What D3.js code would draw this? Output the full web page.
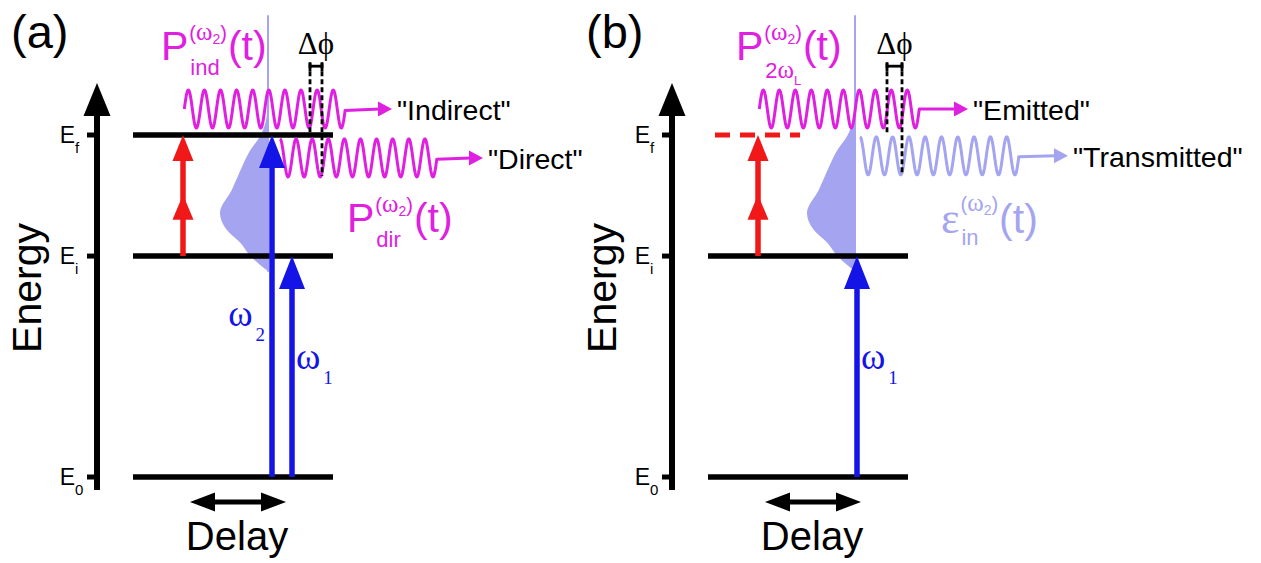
<!DOCTYPE html>
<html>
<head>
<meta charset="utf-8">
<script src="https://cdn.jsdelivr.net/npm/d3@7"></script>
<style>
body { margin: 0; background: #fff; }
svg { display: block; }
</style>
</head>
<body>
<script>
// Data
//---------
var panelNames = ["(a)", "(b)"];

// energy levels, arb. units (E0 = 0, Ef = 100)
var levelSubs = ["0", "i", "f"];
var levelEnergy = [0, 64.6, 100];
var levelKindA = ["solid", "solid", "solid"];
var levelKindB = ["solid", "solid", "virtual"];

// excitation arrows : panel, delay position, start / end energy
var pumpPanel = [0, 0, 0, 1, 1];
var pumpPos = [25, 69.5, 79.5, 25, 74.5];
var pumpFrom = [64.6, 0, 0, 64.6, 0];
var pumpTo = [100, 100, 64.6, 100, 64.6];
var pumpKind = ["red", "blue", "blue", "red", "blue"];
var pumpLabel = ["", "2", "1", "", "1"];
var redMidHead = 82.5;

// omega2 pulse spectrum
var spectrumPos = [68, 74];
var specEnergy = [60, 62, 64.6, 68.4, 72.2, 77.2, 83.9, 89.8, 95.6, 99.7, 104.4, 110.2];
var specAmp = [0, 0.18, 0.38, 0.58, 0.86, 1.0, 0.76, 0.58, 0.38, 0.18, 0.06, 0.02];
var specTop = 135;

// emitted / transmitted fields
var waveNames = ["\"Indirect\"", "\"Direct\"", "\"Emitted\"", "\"Transmitted\""];
var wavePanel = [0, 0, 1, 1];
var waveKind = ["pol", "pol", "pol", "field"];
var waveStart = [25.65, 73.5, 25.65, 76];
var waveCycles = [10, 9.75, 10, 9.75];
var wavePeriod = [8.05, 8.05, 8.0, 8.15];
var wavePhase = ["sin", "cos", "sin", "cos"];
var waveCenter = [107.6, 93.3, 107.6, 93.9];
var waveAmp = [5.56, 5.56, 5.56, 5.56];
var waveTip = [129.5, 175, 130, 180];

// phase difference markers
var phaseMarkPos = [[88.5, 94.5], [89.5, 97]];
var phaseMarkEnd = [[100.6, 88], [100, 88.5]];
var phaseMarkTop = 121;

// delay arrow
var delayFrom = 28.5, delayTo = 76.5, delayLevel = -7.3;

// Setup
//---------
var W = 1261, H = 563;
var sans = "Liberation Sans, Arial, sans-serif";
var serif = "Liberation Serif, DejaVu Serif, Times New Roman, serif";
var magenta = "#e020e0", blue = "#1414e6", red = "#f01818", lilac = "#a4a4f0";

var svg = d3.select("body").append("svg").attr("width", W).attr("height", H);

var panelOffset = [0, 575];
var x = d3.scaleLinear().domain([0, 100]).range([133, 333]);
var y = d3.scaleLinear().domain([0, 100]).range([477, 135]);
var amp = d3.scaleLinear().domain([0, 1]).range([0, 49]);

function head(g, tx, ty, dx, dy, L, Wd, color) {
	// tip at (tx,ty) pointing along (dx,dy)
	var bx = tx - dx * L, by = ty - dy * L;
	var px = -dy, py = dx;
	g.append("path")
		.attr("d", "M" + tx + "," + ty + "L" + (bx + px * Wd / 2) + "," + (by + py * Wd / 2) +
			"L" + (bx - px * Wd / 2) + "," + (by - py * Wd / 2) + "Z")
		.attr("fill", color);
}

function addText(g, px, py, parts, color, anchor) {
	var t = g.append("text").attr("x", px).attr("y", py).attr("fill", color)
		.attr("text-anchor", anchor || "start");
	parts.forEach(function(p) {
		t.append("tspan").attr("font-family", p.f).attr("font-size", p.s)
			.attr("dx", p.dx || 0).attr("dy", p.dy || 0).text(p.t);
	});
	return t.node().getComputedTextLength();
}

var supOmega2 = [
	{t: "(", f: sans, s: 20}, {t: "ω", f: serif, s: 25},
	{t: "2", f: sans, s: 14, dy: 4}, {t: ")", f: sans, s: 20, dy: -4}
];

function symbolLabel(g, px, py, main, mainFont, mainSize, subParts, color, supUp, subDown) {
	var w = addText(g, px, py, [{t: main, f: mainFont, s: mainSize}], color);
	var ws = addText(g, px + w + 1, py - supUp, supOmega2, color);
	var wb = addText(g, px + w + 2, py + subDown, subParts, color);
	addText(g, px + w + Math.max(ws, wb) + 2, py, [{t: "(t)", f: sans, s: 41}], color);
}

// Panels
//---------
panelNames.forEach(function(name, pi) {
	var g = svg.append("g").attr("transform", "translate(" + panelOffset[pi] + ",0)");
	var axisX = x(-18);

	//-- Spectrum
	var base = x(spectrumPos[pi]);
	var spec = specEnergy.map(function(e, i) { return {e: e, a: specAmp[i]}; });
	g.append("path")
		.datum(spec)
		.attr("d", d3.area().curve(d3.curveMonotoneY)
			.y(function(d) { return y(d.e); })
			.x0(function(d) { return base - amp(d.a); })
			.x1(base))
		.attr("fill", lilac);
	g.append("line")
		.attr("x1", base - 1).attr("x2", base - 1)
		.attr("y1", y(specEnergy[0])).attr("y2", y(specTop))
		.attr("stroke", lilac).attr("stroke-width", 2);

	//-- Levels
	var kinds = pi == 0 ? levelKindA : levelKindB;
	levelEnergy.forEach(function(e, li) {
		if (kinds[li] == "solid") {
			g.append("line").attr("x1", x(0)).attr("x2", x(100))
				.attr("y1", y(e)).attr("y2", y(e))
				.attr("stroke", "#000").attr("stroke-width", 5.5);
		} else {
			g.append("line").attr("x1", x(3.5)).attr("x2", x(46))
				.attr("y1", y(e)).attr("y2", y(e))
				.attr("stroke", red).attr("stroke-width", 5)
				.attr("stroke-dasharray", "15,10");
		}
		// tick + label
		g.append("line").attr("x1", axisX - 10).attr("x2", axisX)
			.attr("y1", y(e)).attr("y2", y(e))
			.attr("stroke", "#000").attr("stroke-width", 5);
		addText(g, axisX - 22, y(e) + 8, [{t: "E", f: sans, s: 23}], "#000", "end");
		addText(g, axisX - 22, y(e) + 18, [{t: levelSubs[li], f: sans, s: 15}], "#000");
	});

	//-- Energy axis
	g.append("line").attr("x1", axisX).attr("x2", axisX)
		.attr("y1", y(-3.8)).attr("y2", y(115.2) + 20)
		.attr("stroke", "#000").attr("stroke-width", 6);
	head(g, axisX, y(115.2), 0, -1, 33, 27, "#000");

	g.append("text")
		.attr("transform", "translate(" + (axisX - 56) + "," + 288 + ") rotate(-90)")
		.attr("text-anchor", "middle")
		.attr("font-family", sans).attr("font-size", 41)
		.text("Energy");

	//-- Panel name
	g.append("text").attr("x", 11).attr("y", 48)
		.attr("font-family", sans).attr("font-size", 47).text(name);

	//-- Waves
	waveNames.forEach(function(wn, wi) {
		if (wavePanel[wi] != pi) return;
		var col = waveKind[wi] == "pol" ? magenta : lilac;
		var pts = [];
		var len = waveCycles[wi] * wavePeriod[wi];
		for (var t = 0; t <= len + 1e-6; t += 0.2) {
			var ph = 2 * Math.PI * t / wavePeriod[wi];
			var v = wavePhase[wi] == "sin" ? Math.sin(ph) : Math.cos(ph);
			pts.push([x(waveStart[wi] + t), y(waveCenter[wi] + waveAmp[wi] * v)]);
		}
		var tipX = x(waveTip[wi]);
		var cy = y(waveCenter[wi]);
		pts.push([tipX - 12, cy]);
		g.append("path").attr("d", d3.line()(pts))
			.attr("fill", "none").attr("stroke", col).attr("stroke-width", 3)
			.attr("stroke-linejoin", "round");
		head(g, tipX, cy, 1, 0, 14, 15, col);
		addText(g, tipX + 5, cy + 11, [{t: wn, f: sans, s: 28.5}], "#000");
	});

	//-- Phase markers
	var pm = phaseMarkPos[pi];
	pm.forEach(function(p, k) {
		g.append("line").attr("x1", x(p)).attr("x2", x(p))
			.attr("y1", y(phaseMarkTop)).attr("y2", y(phaseMarkEnd[pi][k]))
			.attr("stroke", "#000").attr("stroke-width", 2.8)
			.attr("stroke-dasharray", "5,3");
		g.append("line").attr("x1", x(p)).attr("x2", x(p))
			.attr("y1", y(phaseMarkTop) - 1).attr("y2", y(phaseMarkTop) + 8)
			.attr("stroke", "#000").attr("stroke-width", 2.8);
	});
	g.append("line").attr("x1", x(pm[0])).attr("x2", x(pm[1]))
		.attr("y1", y(phaseMarkTop) + 3).attr("y2", y(phaseMarkTop) + 3)
		.attr("stroke", "#000").attr("stroke-width", 2.8);
	addText(g, (x(pm[0]) + x(pm[1])) / 2, 54, [{t: "Δϕ", f: serif, s: 31}], "#000", "middle");

	//-- Pump arrows
	pumpPanel.forEach(function(pp, ai) {
		if (pp != pi) return;
		var ax = x(pumpPos[ai]);
		var y0 = y(pumpFrom[ai]), y1 = y(pumpTo[ai]);
		if (pumpKind[ai] == "red") {
			g.append("line").attr("x1", ax).attr("x2", ax).attr("y1", y0).attr("y2", y1 + 10)
				.attr("stroke", red).attr("stroke-width", 5.5);
			head(g, ax, y1, 0, -1, 26, 21, red);
			head(g, ax, y(redMidHead), 0, -1, 25, 21, red);
		} else {
			g.append("line").attr("x1", ax).attr("x2", ax).attr("y1", y0).attr("y2", y1 + 15)
				.attr("stroke", blue).attr("stroke-width", 5.5);
			head(g, ax, y1, 0, -1, 33, 26, blue);
			var lab = [{t: "ω", f: serif, s: 37}, {t: pumpLabel[ai], f: serif, s: 19, dx: 3, dy: 15}];
			if (pumpLabel[ai] == "2") {
				addText(g, ax - 7, 326, lab, blue, "end");
			} else {
				addText(g, ax + 4, 369, lab, blue);
			}
		}
	});

	//-- Delay
	var dly = y(delayLevel);
	g.append("line").attr("x1", x(delayFrom) + 15).attr("x2", x(delayTo) - 15)
		.attr("y1", dly).attr("y2", dly).attr("stroke", "#000").attr("stroke-width", 5);
	head(g, x(delayFrom), dly, -1, 0, 25, 19, "#000");
	head(g, x(delayTo), dly, 1, 0, 25, 19, "#000");
	addText(g, x(52), 550, [{t: "Delay", f: sans, s: 40}], "#000", "middle");

	//-- Field labels
	if (pi == 0) {
		symbolLabel(g, 161, 60, "P", sans, 41, [{t: "ind", f: sans, s: 22}], magenta, 20, 15);
		symbolLabel(g, 347, 232, "P", sans, 41, [{t: "dir", f: sans, s: 22}], magenta, 20, 15);
	} else {
		symbolLabel(g, 161, 60, "P", sans, 41,
			[{t: "2", f: sans, s: 22}, {t: "ω", f: serif, s: 25}, {t: "L", f: sans, s: 13, dy: 7}],
			magenta, 20, 18);
		symbolLabel(g, 366, 233, "ε", serif, 44, [{t: "in", f: sans, s: 22}], lilac, 22, 12);
	}
});
</script>
</body>
</html>
